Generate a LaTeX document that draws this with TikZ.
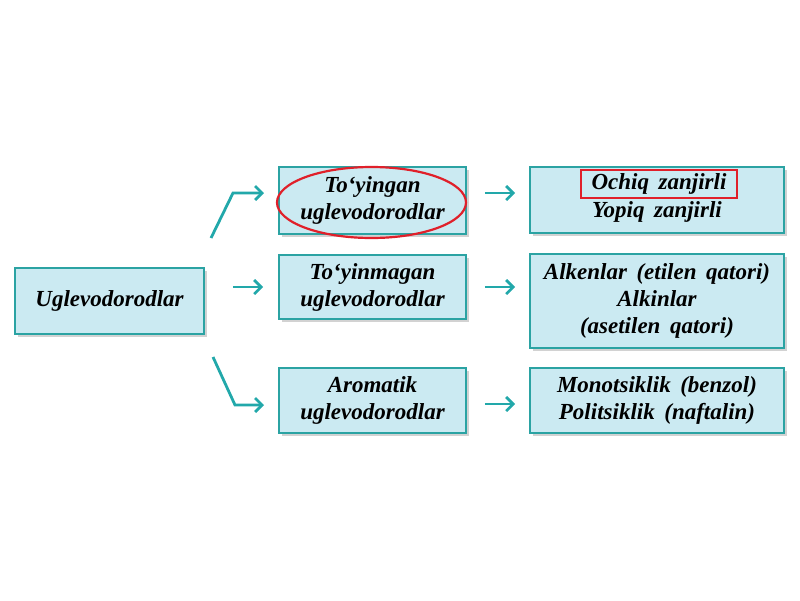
\documentclass[tikz,border=0pt]{standalone}
\usepackage{fontspec}
\setmainfont{Liberation Serif}
\usetikzlibrary{shadows,shapes.geometric,arrows.meta}
\definecolor{boxfill}{HTML}{CBEAF2}
\definecolor{boxline}{HTML}{2BA3A3}
\definecolor{arrcol}{HTML}{22A8AA}
\definecolor{redc}{HTML}{E0202A}
\tikzset{
  box/.style={draw=boxline, line width=1.6pt, fill=boxfill, inner sep=0pt,
    drop shadow={shadow xshift=3pt, shadow yshift=-3pt, fill=black!35, opacity=.5},
    font=\fontsize{23}{27}\selectfont\bfseries\itshape, align=center},
  txt/.style={font=\fontsize{23}{27}\selectfont\bfseries\itshape, align=center, inner sep=2pt},
  arr/.style={draw=arrcol, line width=2.8pt, -{Straight Barb[length=7pt,width=14pt]}},
}
\begin{document}
\begin{tikzpicture}[x=1pt,y=-1pt]
\useasboundingbox (0,0) rectangle (800,600);
% root
\node[box, minimum width=189pt, minimum height=66pt] (root) at (109.5,301) {Uglevodorodlar};
% middle column
\node[box, minimum width=187pt, minimum height=67pt] (A) at (372.5,200.5) {To‘yingan\\uglevodorodlar};
\node[box, minimum width=187pt, minimum height=64pt] (B) at (372.5,287) {To‘yinmagan\\uglevodorodlar};
\node[box, minimum width=187pt, minimum height=65pt] (C) at (372.5,400.5) {Aromatik\\uglevodorodlar};
% right column
\node[box, minimum width=254pt, minimum height=66pt] (D) at (657,200) {};
\node[txt, draw=redc, line width=2pt, minimum width=156pt, minimum height=28pt] (D1) at (659,184) {Ochiq \,zanjirli};
\node[txt] (D2) at (657,212) {Yopiq \,zanjirli};
\node[box, minimum width=254pt, minimum height=94pt] (E) at (657,301) {Alkenlar \,(etilen \,qatori)\\Alkinlar\\(asetilen \,qatori)};
\node[box, minimum width=254pt, minimum height=65pt] (F) at (657,400.5) {Monotsiklik \,(benzol)\\Politsiklik \,(naftalin)};
% red ellipse
\node[ellipse, draw=redc, line width=2.2pt, minimum width=189pt, minimum height=71pt] (ell) at (371.5,202.5) {};
% connectors from root
\coordinate (s1) at (211,238);
\coordinate (k1) at (233,193);
\coordinate (e1) at (264,193);
\coordinate (s3) at (213,357);
\coordinate (k3) at (235,405);
\coordinate (e3) at (264,405);
\draw[arr] (s1) -- (k1) -- (e1);
\draw[arr, shorten <=28pt, shorten >=15pt] (root.east |- 0,287) -- (B.west |- 0,287);
\draw[arr] (s3) -- (k3) -- (e3);
% right arrows
\draw[arr, shorten <=18pt, shorten >=14pt] (A.east |- 0,193) -- (D.west |- 0,193);
\draw[arr, shorten <=18pt, shorten >=14pt] (B.east |- 0,287) -- (E.west |- 0,287);
\draw[arr, shorten <=18pt, shorten >=14pt] (C.east |- 0,404) -- (F.west |- 0,404);
\end{tikzpicture}
\end{document}
